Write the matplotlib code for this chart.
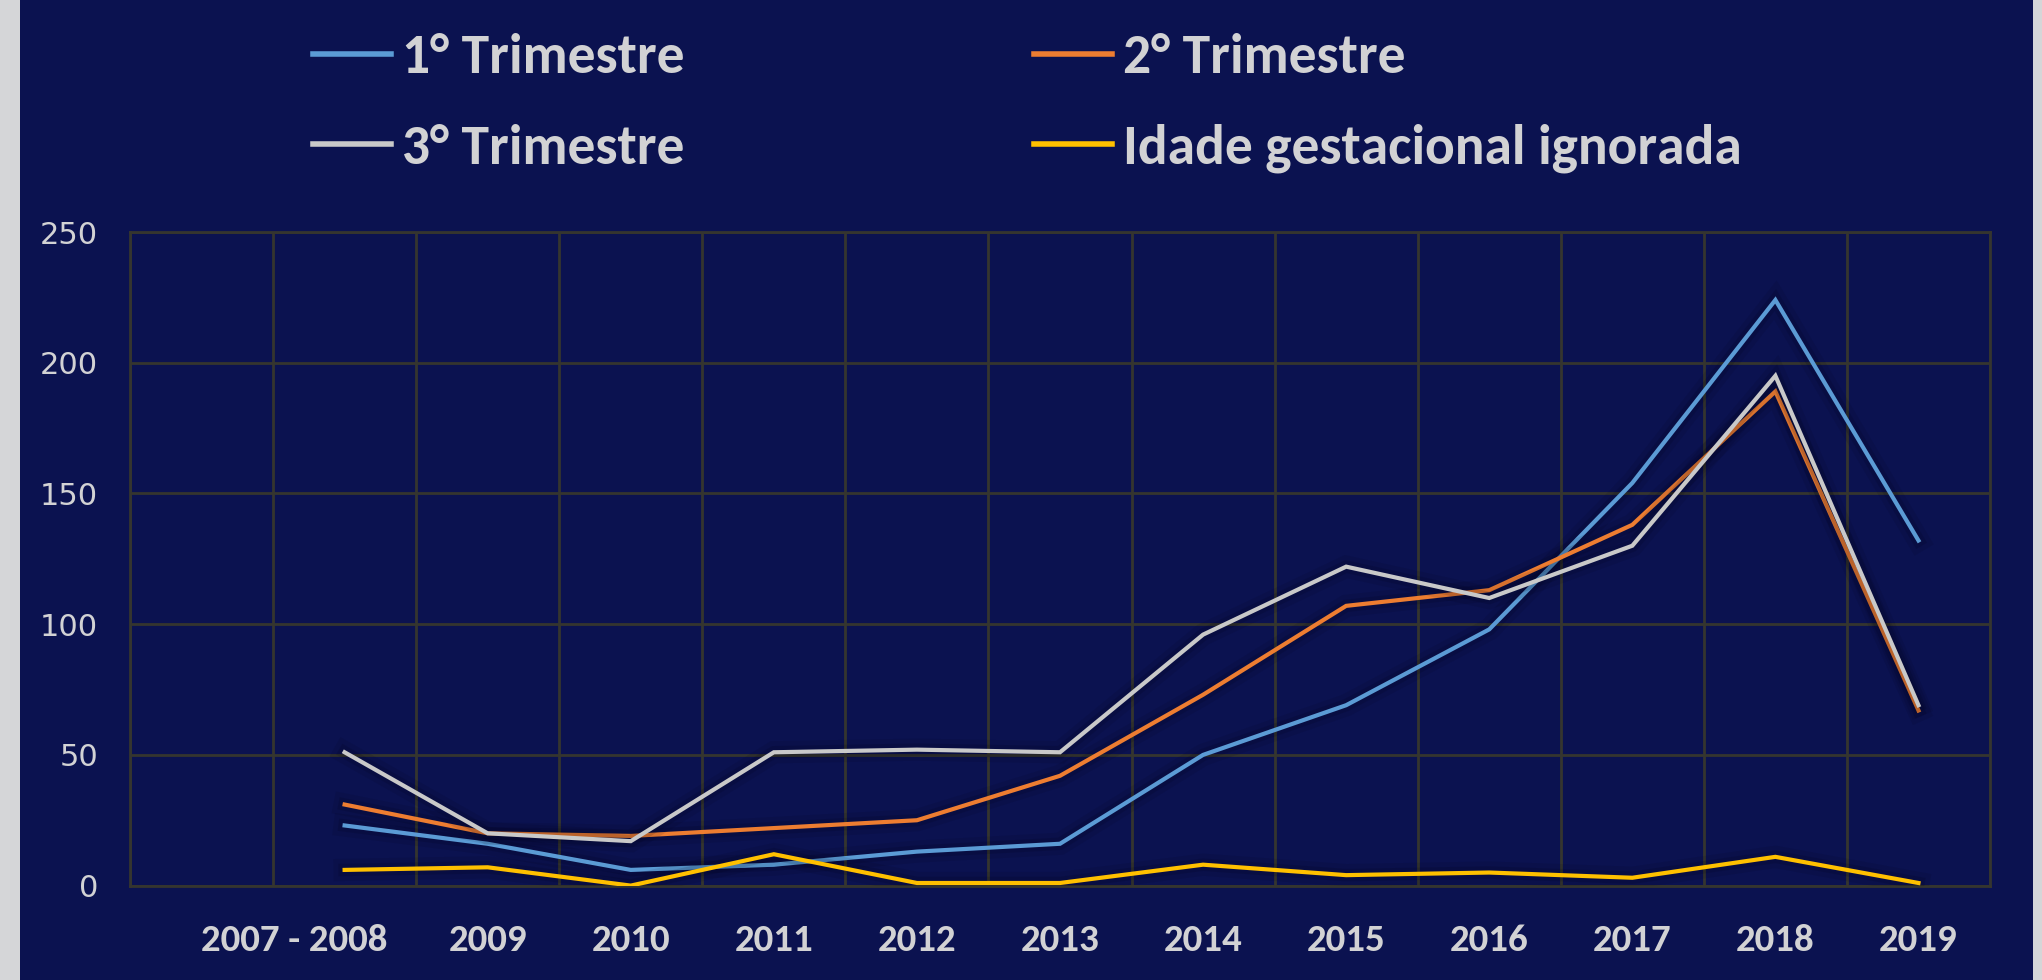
import matplotlib
matplotlib.use("Agg")
import matplotlib.pyplot as plt
import matplotlib.patheffects as pe
from matplotlib.transforms import ScaledTranslation
import numpy as np

categories = ["", "2007 - 2008", "2009", "2010", "2011", "2012", "2013",
              "2014", "2015", "2016", "2017", "2018", "2019"]
tri1 = [None, 23, 16, 6, 8, 13, 16, 50, 69, 98, 154, 224, 132]
tri2 = [None, 31, 20, 19, 22, 25, 42, 73, 107, 113, 138, 189, 67]
tri3 = [None, 51, 20, 17, 51, 52, 51, 96, 122, 110, 130, 195, 69]
ignorada = [None, 6, 7, 0, 12, 1, 1, 8, 4, 5, 3, 11, 1]
series_names = ["1° Trimestre", "2° Trimestre", "3° Trimestre", "Idade gestacional ignorada"]
series_colors = ["#5b9bd5", "#ed7d31", "#c9c9c9", "#ffc000"]
y_ticks = [0, 50, 100, 150, 200, 250]

BG = "#0b1250"
GRID = "#35352f"
TXT = "#d2d2d4"
COND = ["Carlito", "Liberation Sans Narrow", "Open Sans", "DejaVu Sans"]

fig = plt.figure(figsize=(20.42, 9.8), dpi=100, facecolor=BG)
# grey side strips
fig.patches.append(plt.Rectangle((0, 0), 20 / 2042, 1, transform=fig.transFigure,
                                 facecolor="#d5d6d8", edgecolor="none", zorder=0))
fig.patches.append(plt.Rectangle((2033 / 2042, 0), 9 / 2042, 1, transform=fig.transFigure,
                                 facecolor="#d5d6d8", edgecolor="none", zorder=0))

ax = fig.add_axes([130 / 2042, 1 - 885.6 / 980, (1990 - 130) / 2042, (885.6 - 232) / 980])
ax.set_facecolor(BG)

x = np.arange(len(categories))
shadow = [pe.Stroke(linewidth=16, foreground="#000010", alpha=0.09),
          pe.Stroke(linewidth=9, foreground="#000010", alpha=0.13), pe.Normal()]
lines = []
for vals, name, col in zip([tri1, tri2, tri3, ignorada], series_names, series_colors):
    y = np.array([np.nan if v is None else v for v in vals], dtype=float)
    ln, = ax.plot(x, y, color=col, lw=3.0, label=name, solid_joinstyle="miter",
                  path_effects=shadow, zorder=3)
    lines.append(ln)

ax.set_xlim(-0.5, len(categories) - 0.5)
ax.set_ylim(0, 250)
ax.set_yticks(y_ticks)
ax.set_yticklabels([str(v) for v in y_ticks], fontsize=22, color=TXT, family="DejaVu Sans")
ax.set_xticks(x)
ax.set_xticklabels(categories, fontsize=28, color=TXT, fontweight="bold", family=COND)
ax.set_xticks(np.arange(-0.5, len(categories), 1), minor=True)
ax.tick_params(axis="both", which="both", length=0)
ax.tick_params(axis="y", pad=23)
ax.tick_params(axis="x", pad=28)
ax.grid(True, axis="y", which="major", color=GRID, lw=2)
ax.grid(True, axis="x", which="minor", color=GRID, lw=2)
ax.grid(False, axis="x", which="major")
for s in ax.spines.values():
    s.set_color(GRID)
    s.set_linewidth(2)

# shift the first label slightly left as in the reference
lab = ax.get_xticklabels()[1]
lab.set_transform(lab.get_transform() + ScaledTranslation(-0.5, 0, fig.dpi_scale_trans))

# legend: row 1 -> 1°, 2°; row 2 -> 3°, ignorada (legend fills column-wise)
leg = fig.legend(handles=[lines[0], lines[2], lines[1], lines[3]], ncol=2,
                 loc="upper left", bbox_to_anchor=(313 / 2042, 1 - 33 / 980),
                 frameon=False, borderpad=0, borderaxespad=0,
                 handlelength=1.4, handletextpad=0.2,
                 columnspacing=6.3, labelspacing=0.75,
                 prop={"family": COND, "weight": "bold", "size": 40})
for t in leg.get_texts():
    t.set_color(TXT)
for h in leg.legend_handles:
    h.set_linewidth(4)
    h.set_path_effects([])

fig.savefig("out.png", dpi=100, facecolor=BG)
